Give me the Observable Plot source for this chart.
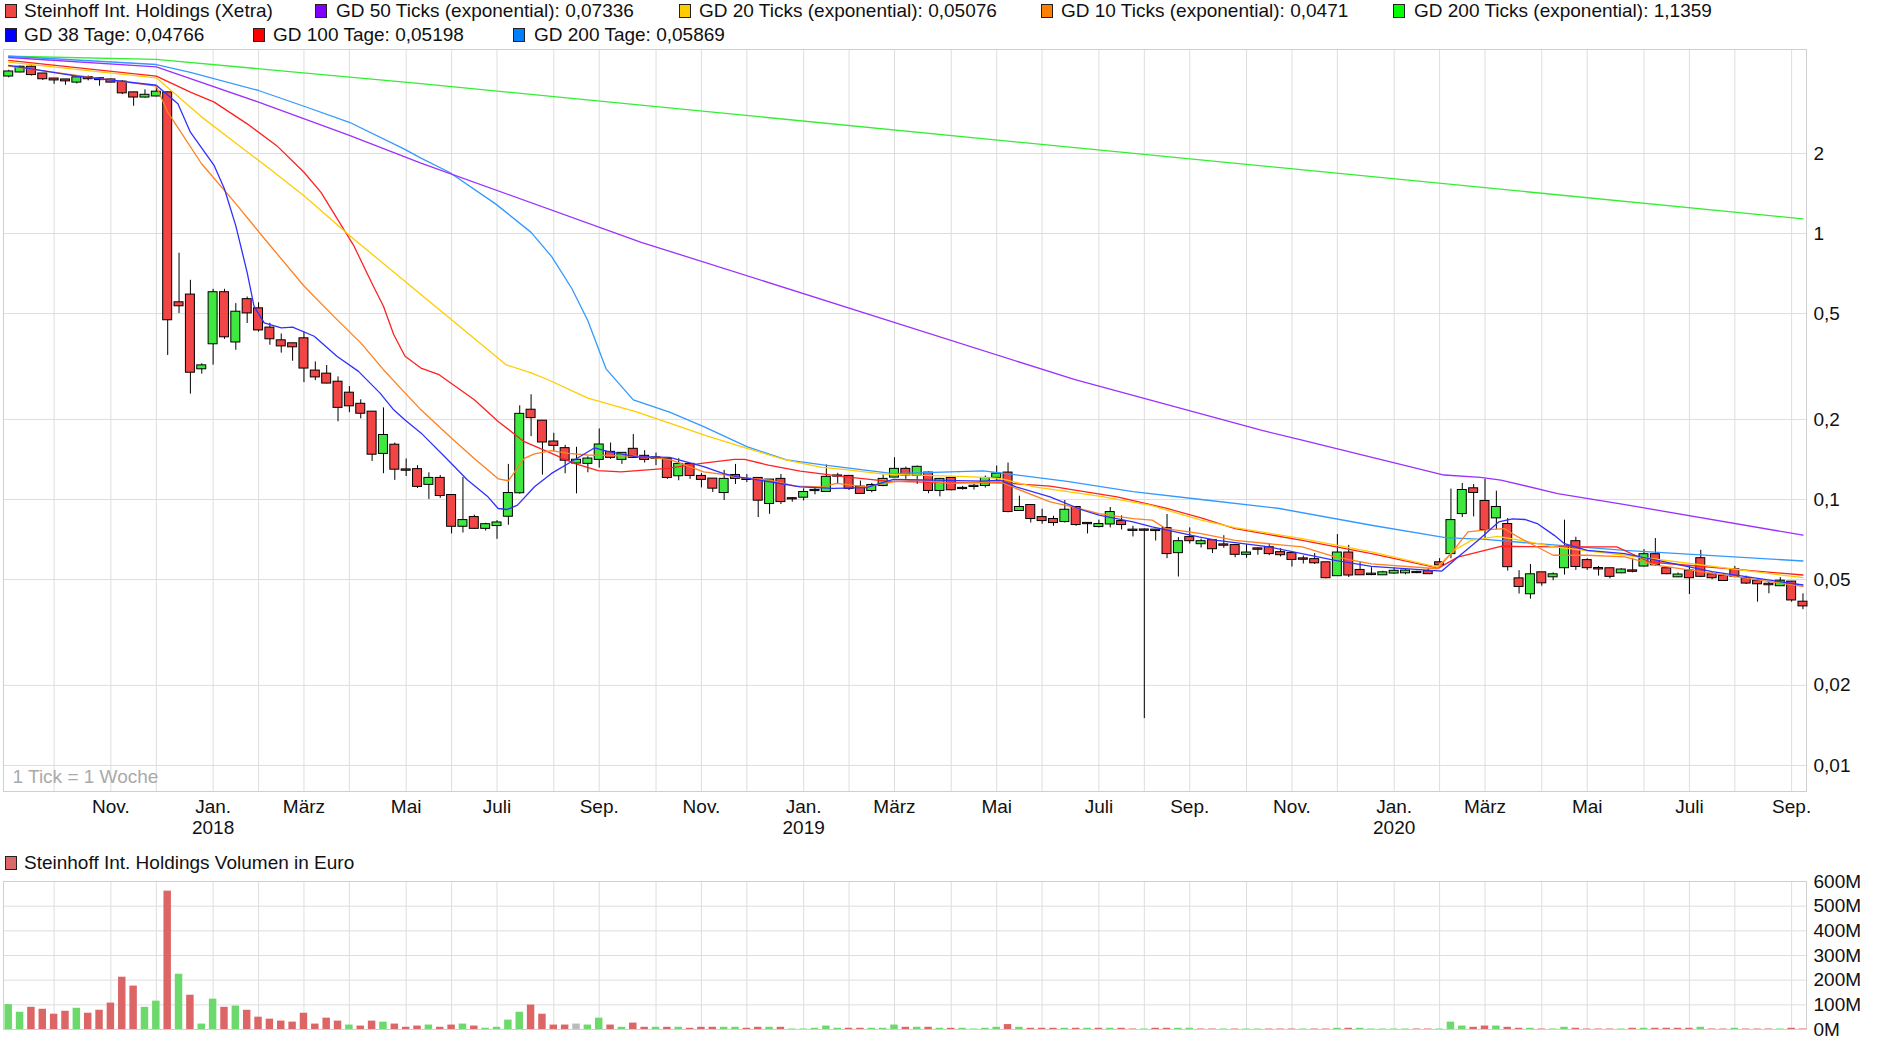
<!DOCTYPE html>
<html><head><meta charset="utf-8">
<script src="https://cdn.jsdelivr.net/npm/d3@7"></script>
<script src="https://cdn.jsdelivr.net/npm/@observablehq/plot@0.6"></script>
<style>
body{margin:0;background:#fff;font-family:"Liberation Sans",Arial,sans-serif;}
#wrap{position:relative;width:1880px;height:1049px;overflow:hidden;background:#fff;}
.lg{position:absolute;font-size:19px;color:#111;white-space:nowrap;line-height:22px;}
.sw{position:absolute;width:10px;height:12px;border:1px solid #222;}
#wrap svg{position:absolute;left:0;overflow:visible;}
</style></head><body><div id="wrap"></div>
<script>
// ---------- DATA (weekly candles, first week starting 2017-08-28) ----------
const firstWeek = "2017-08-28";
const open = [3.91,4.05,4.22,3.98,3.81,3.78,3.71,3.86,3.82,3.78,
3.71,3.38,3.26,3.29,3.38,0.549,0.587,0.310,0.385,0.599,
0.391,0.564,0.521,0.441,0.395,0.385,0.402,0.304,0.296,0.276,
0.251,0.228,0.213,0.149,0.160,0.1292,0.1295,0.114,0.120,0.1035,
0.0793,0.0855,0.0779,0.0798,0.0865,0.106,0.2166,0.197,0.1645,0.1553,
0.1371,0.1367,0.1415,0.1504,0.1415,0.1544,0.1453,0.1433,0.1415,0.1228,
0.1355,0.1221,0.1193,0.1062,0.1231,0.1191,0.120,0.0966,0.119,0.1007,
0.102,0.108,0.1072,0.1226,0.1221,0.1113,0.1081,0.1129,0.1214,0.1298,
0.1232,0.1257,0.1081,0.120,0.1101,0.1119,0.1129,0.1211,0.1257,0.0909,
0.0949,0.0855,0.0841,0.0826,0.0933,0.0813,0.0791,0.0809,0.0826,0.0767,
0.0768,0.0767,0.0777,0.0631,0.0719,0.0682,0.070,0.0675,0.0671,0.0622,
0.0652,0.0659,0.0631,0.0626,0.0598,0.0594,0.0578,0.0517,0.0629,0.0541,
0.0524,0.0521,0.0529,0.053,0.0532,0.0535,0.0578,0.0626,0.0885,0.1097,
0.0983,0.0853,0.0805,0.0503,0.0442,0.053,0.0512,0.0554,0.0694,0.0589,
0.055,0.0549,0.053,0.0539,0.0562,0.062,0.0549,0.0512,0.0538,0.0599,
0.0521,0.0514,0.0544,0.0503,0.0493,0.048,0.0474,0.0489,0.0411];
const high = [4.11,4.26,4.26,4.00,3.83,3.80,3.88,3.91,3.85,3.81,
3.76,3.40,3.47,3.55,3.40,0.843,0.667,0.324,0.617,0.617,
0.545,0.577,0.549,0.460,0.419,0.387,0.426,0.329,0.319,0.289,
0.266,0.237,0.214,0.221,0.163,0.142,0.134,0.126,0.123,0.1044,
0.121,0.0873,0.0814,0.0833,0.1355,0.225,0.2475,0.198,0.1774,0.1598,
0.1571,0.1448,0.1842,0.1631,0.1491,0.1754,0.1526,0.1495,0.1427,0.1423,
0.1357,0.1253,0.1195,0.1286,0.1355,0.1241,0.1202,0.1185,0.1242,0.1017,
0.1097,0.111,0.1348,0.1254,0.1225,0.1173,0.1149,0.1236,0.1436,0.1324,
0.1336,0.1268,0.120,0.1202,0.112,0.1139,0.1225,0.1336,0.1371,0.1029,
0.0957,0.0919,0.0865,0.0991,0.0938,0.0814,0.0836,0.0933,0.0868,0.0793,
0.0775,0.0770,0.0878,0.0719,0.0782,0.071,0.0701,0.0731,0.0673,0.0676,
0.0659,0.068,0.0653,0.0627,0.0613,0.0626,0.0579,0.0738,0.0672,0.0583,
0.0554,0.0537,0.0552,0.0544,0.0537,0.0549,0.0599,0.1094,0.1149,0.1139,
0.119,0.1075,0.0848,0.054,0.057,0.0531,0.053,0.0836,0.0721,0.0599,
0.056,0.055,0.0549,0.0599,0.0648,0.0713,0.0554,0.0529,0.0565,0.0644,
0.053,0.0521,0.056,0.0515,0.0503,0.0489,0.0508,0.049,0.0442];
const low = [3.85,4.02,3.91,3.76,3.64,3.61,3.65,3.75,3.58,3.69,
3.33,3.01,3.23,3.26,0.348,0.500,0.249,0.296,0.320,0.400,
0.364,0.459,0.426,0.380,0.355,0.331,0.275,0.280,0.272,0.196,
0.212,0.201,0.139,0.125,0.118,0.122,0.110,0.100,0.101,0.0742,
0.0748,0.0773,0.0761,0.0708,0.080,0.1047,0.1723,0.1235,0.1513,0.1249,
0.105,0.126,0.1312,0.1415,0.1355,0.1427,0.1371,0.134,0.119,0.1176,
0.119,0.1106,0.1062,0.0991,0.1139,0.1158,0.0855,0.088,0.0957,0.0977,
0.0988,0.1041,0.1068,0.1139,0.1081,0.1052,0.106,0.1116,0.121,0.119,
0.1139,0.1051,0.1023,0.1078,0.1085,0.1085,0.1104,0.1149,0.0891,0.0907,
0.0816,0.0807,0.0793,0.0816,0.0793,0.0742,0.0782,0.0782,0.0768,0.0723,
0.0150,0.0698,0.0599,0.0511,0.068,0.0657,0.0626,0.0655,0.0604,0.0601,
0.0617,0.0615,0.0608,0.0557,0.0572,0.057,0.0503,0.0514,0.0509,0.052,
0.0517,0.0518,0.0523,0.0521,0.0526,0.0523,0.0565,0.0599,0.0855,0.086,
0.0713,0.077,0.0538,0.0441,0.0422,0.0472,0.0495,0.052,0.0541,0.0541,
0.0515,0.0503,0.0526,0.053,0.0557,0.0562,0.0521,0.0508,0.0439,0.0508,
0.0499,0.0492,0.0508,0.0479,0.0411,0.0442,0.0472,0.0411,0.0385];
const close = [4.05,4.22,3.96,3.82,3.78,3.75,3.85,3.82,3.79,3.71,
3.38,3.26,3.31,3.40,0.474,0.535,0.301,0.318,0.599,0.409,
0.506,0.503,0.434,0.402,0.378,0.375,0.312,0.289,0.274,0.222,
0.225,0.211,0.148,0.174,0.130,0.1288,0.112,0.120,0.1035,0.0793,
0.0833,0.0779,0.0804,0.0816,0.1053,0.209,0.2032,0.1645,0.1598,0.1405,
0.1405,0.1419,0.1603,0.144,0.1491,0.144,0.1415,0.1429,0.121,0.1355,
0.1231,0.119,0.1103,0.119,0.120,0.1189,0.0994,0.1183,0.0982,0.1005,
0.1062,0.1082,0.1211,0.1224,0.110,0.1054,0.1129,0.119,0.1298,0.1236,
0.1321,0.1081,0.119,0.1088,0.1099,0.1121,0.120,0.1246,0.0901,0.0933,
0.0848,0.0833,0.0819,0.0911,0.0805,0.0811,0.0805,0.0893,0.0805,0.0765,
0.0766,0.0764,0.0626,0.0694,0.070,0.0694,0.0653,0.0673,0.0622,0.0629,
0.065,0.0626,0.062,0.0595,0.0596,0.0578,0.0508,0.0629,0.052,0.0521,
0.0522,0.053,0.0537,0.0538,0.0531,0.0526,0.0568,0.0833,0.1081,0.1063,
0.077,0.0933,0.0559,0.0471,0.0521,0.0486,0.0521,0.0665,0.056,0.0554,
0.0548,0.0514,0.0543,0.0537,0.062,0.0568,0.0526,0.052,0.0508,0.0514,
0.0508,0.0496,0.0514,0.0485,0.0482,0.0478,0.0493,0.0419,0.0398];
// volume in million euro
const volume = [101,70,90,82,62,74,86,66,78,107,
212,176,90,115,561,224,139,22,123,90,
95,78,50,42,34,30,66,22,46,34,
18,14,34,30,22,9,14,18,9,18,
22,14,5,9,38,70,99,62,18,18,
22,18,46,18,9,26,9,9,9,9,
5,9,9,9,9,5,9,9,9,2,
2,5,14,5,5,5,5,5,18,9,
9,9,5,5,5,2,5,9,20,9,
5,5,5,5,5,5,5,5,5,2,
2,5,5,5,5,2,2,2,2,2,
2,2,2,2,2,2,2,5,5,5,
2,2,2,2,2,2,2,30,14,9,
14,14,9,5,5,2,2,9,5,2,
2,2,2,5,5,5,5,5,5,9,
2,2,5,2,2,2,2,5,2];
// moving averages: [week index, value]
const gd200x = [[0,4.64],[13,4.52],[36.3,3.66],[158,1.136]];
const gd200T = [[0,4.64],[13,4.32],[16,4.04],[22,3.45],[26,3.01],[30,2.62],[34.8,2.08],[36.3,1.92],[38.8,1.70],[42.9,1.29],[46,1.01],[47.8,0.82],[49.6,0.62],[51,0.47],[52.6,0.31],[55,0.237],[58.2,0.213],[61.2,0.188],[65,0.158],[68.5,0.141],[71.7,0.135],[77.9,0.125],[85.8,0.128],[87.3,0.126],[93.2,0.117],[99,0.107],[105,0.100],[111.9,0.0925],[120,0.080],[126.5,0.0719],[130.3,0.0706],[134.6,0.0682],[142.3,0.0644],[158,0.0587]];
const gd50x = [[0,4.59],[13,4.23],[22,3.12],[30,2.34],[36.3,1.84],[55.7,0.927],[93.9,0.282],[110.2,0.1826],[113.8,0.1675],[126.4,0.1236],[129.6,0.1211],[131.4,0.1183],[136.4,0.1053],[142.6,0.0952],[158,0.0734]];
const gd100T = [[0,4.48],[13,3.91],[16,3.40],[18.1,3.12],[21,2.585],[23.6,2.14],[26,1.70],[27.5,1.428],[30.4,0.898],[32.1,0.635],[33,0.533],[33.9,0.417],[34.9,0.3455],[36.3,0.312],[37.9,0.2946],[41,0.237],[43.1,0.1963],[45.4,0.165],[47.8,0.149],[49.8,0.1367],[51.9,0.1283],[53.9,0.1271],[58,0.1309],[61,0.1367],[63.9,0.1415],[64.8,0.1415],[66.9,0.1347],[69.7,0.1279],[73.5,0.1218],[77.3,0.1173],[81.4,0.116],[87.3,0.1156],[91.7,0.1123],[97.6,0.1023],[102,0.0925],[105,0.0853],[108,0.0777],[113.9,0.0702],[120,0.0626],[125.9,0.0552],[127.6,0.0607],[131.4,0.0667],[136.6,0.0663],[141.6,0.0663],[144.5,0.0582],[158,0.052]];
const gd20x = [[0,4.41],[13,3.85],[17,2.74],[19.9,2.205],[22.8,1.774],[26,1.387],[30.4,0.952],[36.3,0.590],[43.8,0.321],[46,0.2995],[47.5,0.282],[51,0.2405],[55.2,0.2141],[58.2,0.1936],[61.2,0.1748],[65,0.1557],[68.5,0.1407],[71.6,0.132],[73.5,0.1298],[77.1,0.1246],[84.4,0.1218],[87.3,0.12],[90.3,0.1116],[96,0.1029],[100.5,0.0952],[105,0.0836],[108,0.0784],[113.9,0.0713],[120,0.0635],[125.8,0.0557],[127.3,0.0644],[128.8,0.0702],[131.1,0.0727],[133.2,0.0702],[136.1,0.0663],[142.3,0.0617],[158,0.0508]];
const gd10x = [[0,4.26],[13,3.58],[14,2.86],[17,1.826],[19.9,1.309],[22.8,0.925],[26,0.635],[28.6,0.489],[31,0.388],[33,0.3076],[34.5,0.2623],[36.3,0.2173],[39,0.1698],[41,0.1427],[43.1,0.1196],[44,0.1176],[45.4,0.1427],[46.3,0.1483],[47.8,0.1526],[49.3,0.1491],[51,0.147],[55.2,0.1456],[58.2,0.1415],[61.2,0.1271],[62.9,0.1242],[64.1,0.121],[67,0.1183],[69.3,0.1122],[71.6,0.1116],[72.9,0.1149],[75.5,0.1116],[77.9,0.1166],[80,0.1183],[82.9,0.1149],[87.3,0.1166],[88.7,0.11],[91.7,0.098],[93.7,0.0938],[96,0.0885],[99,0.0848],[100.7,0.0836],[101.9,0.0777],[105,0.0744],[108,0.0702],[113.9,0.0663],[116.8,0.0608],[120,0.0573],[125.8,0.0549],[127,0.0626],[128.5,0.0755],[130.3,0.077],[131.7,0.0777],[132.9,0.0723],[134.6,0.0663],[136,0.0617],[139,0.0617],[142.3,0.0608],[145.2,0.0565],[158,0.0471]];
const gd38T = [[0,4.29],[6,3.91],[13,3.61],[14.9,3.076],[16,2.405],[18.1,1.80],[19,1.47],[20,1.069],[21,0.713],[21.6,0.533],[22.5,0.4616],[24,0.442],[25,0.445],[26.9,0.411],[28.9,0.3455],[30.8,0.3032],[32.7,0.2512],[33.9,0.2173],[34.9,0.199],[36.3,0.178],[38.4,0.1448],[40.4,0.1183],[42.2,0.1023],[43.1,0.0925],[43.9,0.0917],[44.8,0.0952],[46.3,0.1116],[47.8,0.1253],[49.8,0.1407],[51.6,0.1565],[52.8,0.1513],[55.2,0.1448],[58.2,0.144],[61.2,0.1328],[62.9,0.1253],[64.1,0.1218],[67,0.1166],[69.7,0.1116],[72.6,0.1100],[75.5,0.1109],[77.9,0.119],[81.4,0.1183],[85.8,0.1173],[87.3,0.1183],[88.7,0.1116],[91.7,0.1023],[94.6,0.0911],[96,0.0873],[99,0.0824],[100.7,0.0789],[104.8,0.0723],[106.4,0.0702],[111,0.0663],[116.8,0.059],[120,0.056],[126.2,0.0538],[127.6,0.0607],[129.4,0.0702],[131.2,0.0823],[132.4,0.0845],[133.5,0.0841],[134.6,0.0812],[136.1,0.0733],[137,0.0682],[139,0.0644],[142.3,0.0626],[150,0.0535],[158,0.0477]];
const priceTicks = [0.01,0.02,0.05,0.1,0.2,0.5,1,2];
const priceTickLabels = ["0,01","0,02","0,05","0,1","0,2","0,5","1","2"];
const volumeTicks = [0,100,200,300,400,500,600];
const volumeTickLabels = ["0M","100M","200M","300M","400M","500M","600M"];
const monthNames = ["Jan.","Feb.","März","Apr.","Mai","Juni","Juli","Aug.","Sep.","Okt.","Nov.","Dez."];
const legendLabels = ["Steinhoff Int. Holdings (Xetra)","GD 50 Ticks (exponential): 0,07336","GD 20 Ticks (exponential): 0,05076","GD 10 Ticks (exponential): 0,0471","GD 200 Ticks (exponential): 1,1359","GD 38 Tage: 0,04766","GD 100 Tage: 0,05198","GD 200 Tage: 0,05869"];
const volumeLabel = "Steinhoff Int. Holdings Volumen in Euro";
const tickNote = "1 Tick = 1 Woche";

// ---------- RENDER ----------
const DAY = 864e5;
const start = Date.parse(firstWeek + "T00:00:00Z");
const wk = k => new Date(start + k * 7 * DAY);
const RED = "#f24545", GREEN = "#3ee83e";
const VRED = "#dc6666", VGREEN = "#6bd96b", VGRAY = "#bbbbbb";
const C = {gd50:"#9b30ff", gd20:"#ffcc00", gd10:"#ff8020", gd200x:"#33ee33", gd38:"#3030ff", gd100:"#ff2020", gd200T:"#3399ff"};
const swatch = ["#f04545","#7f00ff","#ffcc00","#ff7f00","#00ff00","#0000ff","#ff0000","#0080ff"];

const candles = open.map((o, i) => ({date: wk(i), o, h: high[i], l: low[i], c: close[i]}));
const vols = volume.map((v, i) => ({date: wk(i), v,
  col: i === 0 ? (close[0] >= open[0] ? VGREEN : VRED) :
       close[i] > close[i-1] ? VGREEN : close[i] < close[i-1] ? VRED : VGRAY}));

// month grid ticks: Monday of the week containing the 1st
const monthTicks = [];
for (let y = 2017, m = 9; y < 2020 || (y === 2020 && m <= 8); ) {
  const f = new Date(Date.UTC(y, m, 1));
  const off = (f.getUTCDay() + 6) % 7;
  monthTicks.push({date: new Date(+f - off * DAY), m, y});
  m++; if (m > 11) { m = 0; y++; }
}
const labelTicks = monthTicks.filter(d => d.m % 2 === 0);
const xDomain = [wk(-0.458), wk(158.31)];
const font = '"Liberation Sans", Arial, sans-serif';
const GRID = "#dedede", FRAME = "#cfcfcf";
const bodyX1 = d => new Date(+d.date - 2.77 * DAY), bodyX2 = d => new Date(+d.date + 2.77 * DAY);
const line = (arr, color) => Plot.line(arr, {x: d => wk(d[0]), y: d => d[1], stroke: color, strokeWidth: 1.3});
const priceLabelData = priceTicks.map((v, i) => ({v, t: priceTickLabels[i]}));
const volLabelData = volumeTicks.map((v, i) => ({v, t: volumeTickLabels[i]}));

const price = Plot.plot({
  width: 1880, height: 845, marginTop: 49, marginBottom: 54, marginLeft: 3, marginRight: 74,
  style: {fontFamily: font, fontSize: "19px", color: "#111", background: "transparent", overflow: "visible"},
  x: {type: "utc", domain: xDomain, axis: null},
  y: {type: "log", domain: [0.00798, 4.92], axis: null},
  marks: [
    Plot.gridY(priceTicks, {stroke: GRID, strokeOpacity: 1}),
    Plot.gridX(monthTicks.map(d => d.date), {stroke: GRID, strokeOpacity: 1}),
    Plot.frame({stroke: FRAME}),
    Plot.text(priceLabelData, {y: "v", text: "t", frameAnchor: "right", textAnchor: "start", dx: 7, fontSize: 19, fill: "#111"}),
    Plot.text(labelTicks, {x: "date", text: d => monthNames[d.m], frameAnchor: "bottom", dy: 15, lineAnchor: "middle", fontSize: 19, fill: "#111"}),
    Plot.text(labelTicks.filter(d => d.m === 0), {x: "date", text: d => String(d.y), frameAnchor: "bottom", dy: 36, lineAnchor: "middle", fontSize: 19, fill: "#111"}),
    Plot.text([tickNote], {frameAnchor: "bottom-left", dx: 9, dy: -15, lineAnchor: "middle", textAnchor: "start", fontSize: 19, fill: "#aaaaaa"}),
    Plot.ruleX(candles, {x: "date", y1: "l", y2: "h", stroke: "#000", strokeWidth: 1}),
    Plot.rect(candles, {x1: bodyX1, x2: bodyX2, y1: d => Math.max(d.o, d.c), y2: d => Math.min(d.o, d.c),
      insetTop: -0.5, insetBottom: -0.5, fill: d => d.c >= d.o ? GREEN : RED, stroke: "#000", strokeWidth: 1}),
    line(gd200x, C.gd200x), line(gd200T, C.gd200T), line(gd50x, C.gd50), line(gd100T, C.gd100),
    line(gd20x, C.gd20), line(gd10x, C.gd10), line(gd38T, C.gd38)
  ]
});
price.style.top = "0px";

const vol = Plot.plot({
  width: 1880, height: 174, marginTop: 6, marginBottom: 20, marginLeft: 3, marginRight: 74,
  style: {fontFamily: font, fontSize: "19px", color: "#111", background: "transparent", overflow: "visible"},
  x: {type: "utc", domain: xDomain, axis: null},
  y: {domain: [0, 600], axis: null},
  marks: [
    Plot.gridY(volumeTicks, {stroke: GRID, strokeOpacity: 1}),
    Plot.gridX(monthTicks.map(d => d.date), {stroke: GRID, strokeOpacity: 1}),
    Plot.frame({stroke: FRAME}),
    Plot.text(volLabelData, {y: "v", text: "t", frameAnchor: "right", textAnchor: "start", dx: 7, fontSize: 19, fill: "#111"}),
    Plot.rect(vols, {x1: d => new Date(+d.date - 2.3 * DAY), x2: d => new Date(+d.date + 2.3 * DAY), y1: 0, y2: "v", fill: "col"})
  ]
});
vol.style.top = "875px";

const wrap = document.getElementById("wrap");
wrap.appendChild(price);
wrap.appendChild(vol);

const legendPos = [[5,24,11],[315,336,11],[679,699,11],[1041,1061,11],[1393,1414,11],[5,24,35],[253,273,35],[513,534,35]];
function addLegend(label, color, sx, tx, cy) {
  const s = document.createElement("div"); s.className = "sw";
  s.style.left = sx + "px"; s.style.top = (cy - 7) + "px"; s.style.background = color; wrap.appendChild(s);
  const t = document.createElement("div"); t.className = "lg"; t.textContent = label;
  t.style.left = tx + "px"; t.style.top = (cy - 11) + "px"; wrap.appendChild(t);
}
legendLabels.forEach((l, i) => addLegend(l, swatch[i], ...legendPos[i]));
addLegend(volumeLabel, "#dd6666", 5, 24, 863);
</script></body></html>
